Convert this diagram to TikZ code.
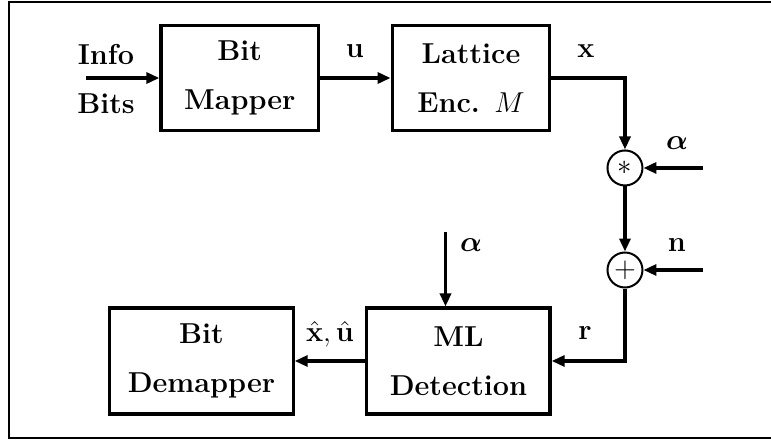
\documentclass[tikz,border=0pt]{standalone}
\usepackage{amsmath,amssymb,bm}
\usepackage{tikz}
\usetikzlibrary{arrows.meta,positioning}

\begin{document}
\begin{tikzpicture}[
  blk/.style={draw,line width=1.6pt,minimum width=2.77cm,minimum height=1.85cm,
    align=center,font=\Large\bfseries},
  wblk/.style={blk,minimum width=3.22cm,minimum height=1.86cm},
  sum/.style={draw,circle,line width=1pt,minimum size=0.615cm,inner sep=0pt,font=\Large},
  lbl/.style={anchor=base,font=\Large\bfseries},
  arr/.style={-{Triangle[length=6.5pt,width=5.5pt]},line width=1.6pt},
  inarr/.style={arr,line width=2pt}]
\useasboundingbox (0,0) rectangle (13.549,-7.75);
\draw[line width=1pt] (0.15,-0.03) rectangle (13.8,-7.69);
\node[blk] (mapper) at (4.213,-1.371) {Bit\\[6.5pt]Mapper};
\node[blk] (lattice) at (8.277,-1.371) {Lattice\\[6.5pt]Enc. $M$};
\node[sum] (mult) at (10.983,-2.952) {$\ast$};
\node[sum] (add) at (10.983,-4.745) {$+$};
\node[wblk] (ml) at (8.057,-6.344) {ML\\[6.5pt]Detection};
\node[wblk] (demapper) at (3.541,-6.344) {Bit\\[6.5pt]Demapper};
\coordinate (infoin) at (1.511,-1.371);
\coordinate (alphain) at (12.354,-2.952);
\coordinate (noisein) at (12.354,-4.745);
\coordinate (alphaml) at (7.829,-4.077);
\node[lbl] (info) at (1.863,-1.125) {Info};
\node[lbl] (bits) at (1.863,-2.003) {Bits};
\node[lbl] (ulbl) at (6.238,-1.019) {$\mathbf{u}$};
\node[lbl] (xlbl) at (10.298,-1.019) {$\mathbf{x}$};
\node[lbl] (albl) at (11.897,-2.636) {$\bm{\alpha}$};
\node[lbl] (nlbl) at (11.897,-4.428) {$\mathbf{n}$};
\node[lbl] (amllbl) at (8.277,-4.428) {$\bm{\alpha}$};
\node[lbl] (rlbl) at (10.280,-5.975) {$\mathbf{r}$};
\node[lbl] (hatlbl) at (5.799,-6.005) {$\hat{\mathbf{x}},\hat{\mathbf{u}}$};
\draw[arr] (infoin) -- (mapper);
\draw[arr] (mapper) -- (lattice);
\draw[arr] (lattice.east) -| (mult);
\draw[arr] (mult) -- (add);
\draw[inarr] (alphain) -- (mult);
\draw[inarr] (noisein) -- (add);
\draw[arr] (add) |- (ml.east);
\draw[arr] (alphaml) -- (alphaml |- ml.north);
\draw[arr] (ml) -- (demapper);
\end{tikzpicture}
\end{document}
